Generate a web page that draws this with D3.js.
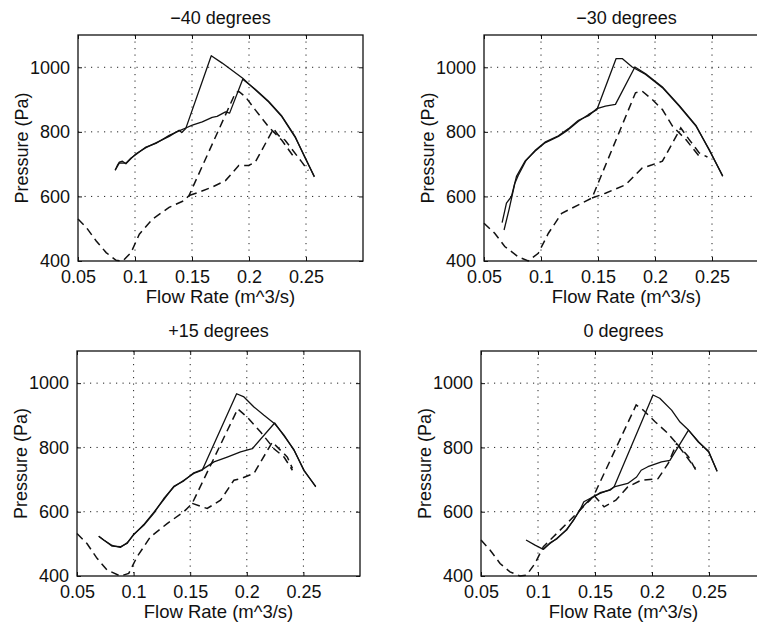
<!DOCTYPE html>
<html>
<head>
<meta charset="utf-8">
<script src="https://cdn.jsdelivr.net/npm/d3@7"></script>
<style>
  body { margin: 0; background: #fff; }
  text { font-family: "Liberation Sans", Arial, sans-serif; fill: #111; }
</style>
</head>
<body>
<svg id="fig" width="757" height="625"></svg>
<script>
// axis setup shared by all four panels
const flowDomain = [0.05, 0.3];
const pressureDomain = [400, 1100];
const flowTicks = [0.05, 0.1, 0.15, 0.2, 0.25];
const pressureTicks = [400, 600, 800, 1000];
const titles = ["\u221240 degrees", "\u221230 degrees", "+15 degrees", "0 degrees"];

// -40 degrees : [flow m^3/s, pressure Pa]
const m40SolidA = [[0.0826,681],[0.0845,696],[0.0863,706],[0.0890,709],[0.092,701],[0.0965,717],[0.1009,732],[0.1096,751],[0.1183,766],[0.13,786],[0.1387,805],[0.141,798],[0.1445,810],[0.1669,1036],[0.1765,1013],[0.1945,966],[0.2055,930],[0.2171,893],[0.2288,847],[0.2404,784],[0.2491,722],[0.2573,660]];
const m40SolidB = [[0.0826,681],[0.0863,704],[0.092,703],[0.0965,719],[0.1009,730],[0.1096,753],[0.1183,764],[0.13,789],[0.1387,803],[0.1445,812],[0.1503,821],[0.159,831],[0.1677,845],[0.172,848],[0.1794,862],[0.183,858],[0.1945,963],[0.2055,932],[0.2171,895],[0.2288,849],[0.2404,786],[0.2491,720],[0.2573,662]];
const m40DashC = [[0.05,530],[0.0573,504],[0.066,462],[0.0747,426],[0.0834,402],[0.0892,400],[0.0965,426],[0.1038,483],[0.1154,530],[0.1299,566],[0.143,587],[0.1474,603],[0.188,920],[0.191,925],[0.1968,909],[0.2055,868],[0.2171,816],[0.2288,774],[0.2404,717]];
const m40DashD = [[0.1474,603],[0.1561,613],[0.1677,629],[0.1794,649],[0.191,696],[0.1997,696],[0.2055,706],[0.2215,810],[0.2259,789],[0.2317,774],[0.2462,707],[0.252,680]];

// -30 degrees
const m30SolidA = [[0.0659,519],[0.0697,579],[0.0741,600],[0.0785,662],[0.0859,709],[0.0947,740],[0.1035,766],[0.1153,786],[0.1241,807],[0.1329,833],[0.1418,854],[0.1491,869],[0.1659,1027],[0.1712,1027],[0.18,1001],[0.1918,978],[0.2065,937],[0.2212,880],[0.2359,818],[0.2476,745],[0.2594,662]];
const m30SolidB = [[0.0676,496],[0.072,560],[0.077,640],[0.08,665],[0.087,712],[0.0947,742],[0.1035,768],[0.1153,788],[0.1241,810],[0.1329,836],[0.1418,850],[0.1491,872],[0.1565,880],[0.1653,885],[0.1824,1001],[0.1918,980],[0.2065,939],[0.2212,882],[0.2359,820],[0.2476,743],[0.2594,664]];
const m30DashC = [[0.05,517],[0.0594,486],[0.0682,445],[0.08,413],[0.0888,400],[0.0976,424],[0.1065,486],[0.1182,548],[0.1329,574],[0.1447,595],[0.1829,921],[0.1888,926],[0.1976,900],[0.2065,869],[0.2153,818],[0.2271,776],[0.2388,724]];
const m30DashD = [[0.1447,595],[0.1565,610],[0.1741,636],[0.1888,688],[0.1976,698],[0.2065,709],[0.2226,812],[0.23,776],[0.2388,735],[0.246,722]];

// +15 degrees
const p15SolidA = [[0.0692,524],[0.0736,512],[0.081,493],[0.0883,491],[0.0942,501],[0.1001,530],[0.109,558],[0.1178,595],[0.1267,641],[0.1355,677],[0.1444,698],[0.1532,719],[0.1606,729],[0.191,967],[0.1975,957],[0.2063,926],[0.2152,900],[0.2246,874],[0.2329,838],[0.2417,791],[0.2506,729],[0.2609,677]];
const p15SolidB = [[0.0692,524],[0.0736,512],[0.081,495],[0.0883,489],[0.0942,503],[0.1001,528],[0.109,560],[0.1178,598],[0.1267,638],[0.1355,679],[0.1444,696],[0.1532,721],[0.1606,731],[0.171,755],[0.1827,770],[0.1945,786],[0.2049,796],[0.2246,876],[0.2329,836],[0.2417,793],[0.2506,727],[0.2609,679]];
const p15DashC = [[0.05,532],[0.0588,501],[0.0677,455],[0.0765,419],[0.0883,400],[0.0957,408],[0.1031,460],[0.1149,522],[0.1296,563],[0.1444,600],[0.1518,626],[0.192,920],[0.2004,894],[0.2122,848],[0.224,796],[0.2329,770],[0.2403,729]];
const p15DashD = [[0.1518,626],[0.165,610],[0.1768,636],[0.1886,698],[0.1945,703],[0.2063,719],[0.2226,817],[0.227,801],[0.2358,770],[0.2403,735]];

// 0 degrees
const z0SolidA = [[0.0895,512],[0.0974,496],[0.1047,483],[0.1105,501],[0.1164,517],[0.1251,543],[0.131,574],[0.1368,605],[0.1402,631],[0.1456,641],[0.1544,657],[0.1632,669],[0.1667,677],[0.2009,963],[0.2068,953],[0.2172,916],[0.2246,879],[0.232,854],[0.2408,818],[0.2497,786],[0.2571,727]];
const z0SolidB = [[0.1047,483],[0.1105,503],[0.1164,515],[0.1251,545],[0.131,572],[0.1368,607],[0.1456,639],[0.1544,659],[0.1632,667],[0.1667,677],[0.1787,688],[0.1865,708],[0.1905,729],[0.1964,740],[0.2083,755],[0.2157,760],[0.232,854],[0.2408,816],[0.2497,788],[0.2571,725]];
const z0DashC = [[0.05,512],[0.0579,481],[0.0667,439],[0.0754,413],[0.0842,400],[0.09,403],[0.0974,439],[0.1047,491],[0.1135,522],[0.1251,563],[0.1368,605],[0.1456,636],[0.149,651],[0.1861,932],[0.192,917],[0.2027,880],[0.2138,844],[0.2216,812],[0.2293,776],[0.238,735]];
const z0DashD = [[0.149,651],[0.158,615],[0.1683,636],[0.1787,677],[0.1905,698],[0.2053,703],[0.2142,750],[0.2216,812],[0.232,771],[0.2393,724]];

const panelSolids = [[m40SolidA, m40SolidB], [m30SolidA, m30SolidB], [p15SolidA, p15SolidB], [z0SolidA, z0SolidB]];
const panelDashes = [[m40DashC, m40DashD], [m30DashC, m30DashD], [p15DashC, p15DashD], [z0DashC, z0DashD]];

// where each axes box sits on the page
const boxes = [
    { left: 78, top: 35, width: 285, height: 226, titleGap: 11.5 },
    { left: 484, top: 35, width: 285, height: 226, titleGap: 11.5 },
    { left: 77, top: 351, width: 283, height: 225, titleGap: 14.5 },
    { left: 481, top: 351, width: 285, height: 225, titleGap: 14.5 }
];

const svg = d3.select('#fig');
const ink = '#111';

boxes.forEach((box, i) => {
    const x = d3.scaleLinear().domain(flowDomain).range([0, box.width]);
    const y = d3.scaleLinear().domain(pressureDomain).range([box.height, 0]);

    const g = svg.append('g')
        .attr('transform', `translate(${box.left},${box.top})`);

    // dotted grid
    g.selectAll('.vgrid')
        .data(flowTicks.slice(1))
        .join('line')
        .attr('x1', (d) => x(d)).attr('x2', (d) => x(d))
        .attr('y1', 0).attr('y2', box.height)
        .style('stroke', '#222')
        .style('stroke-width', 1)
        .style('stroke-dasharray', '1.2,5.3');

    g.selectAll('.hgrid')
        .data(pressureTicks.slice(1))
        .join('line')
        .attr('x1', 0).attr('x2', box.width)
        .attr('y1', (d) => y(d)).attr('y2', (d) => y(d))
        .style('stroke', '#222')
        .style('stroke-width', 1)
        .style('stroke-dasharray', '1.2,5.3');

    // axes: labels outside, short ticks pointing in, on all four sides
    const bottom = g.append('g').attr('transform', `translate(0,${box.height})`)
        .call(d3.axisBottom(x).tickValues(flowTicks).tickSizeInner(-4).tickSizeOuter(0).tickPadding(9)
            .tickFormat((d) => String(+d.toFixed(2))));
    const left = g.append('g')
        .call(d3.axisLeft(y).tickValues(pressureTicks).tickSizeInner(-4).tickSizeOuter(0).tickPadding(8)
            .tickFormat(d3.format('d')));
    const top = g.append('g')
        .call(d3.axisTop(x).tickValues(flowTicks).tickSizeInner(-4).tickSizeOuter(0).tickFormat(''));
    const right = g.append('g').attr('transform', `translate(${box.width},0)`)
        .call(d3.axisRight(y).tickValues(pressureTicks).tickSizeInner(-4).tickSizeOuter(0).tickFormat(''));

    [bottom, left, top, right].forEach((a) => {
        a.select('.domain').remove();
        a.selectAll('line').style('stroke', ink);
        a.selectAll('text')
            .style('font-size', '18px')
            .style('font-family', '"Liberation Sans", Arial, sans-serif')
            .attr('fill', ink);
    });

    g.append('rect')
        .attr('width', box.width)
        .attr('height', box.height)
        .style('fill', 'none')
        .style('stroke', ink)
        .style('stroke-width', 1.3);

    const line = d3.line()
        .x((d) => x(d[0]))
        .y((d) => y(d[1]));

    g.selectAll('.dashCurve')
        .data(panelDashes[i])
        .join('path')
        .attr('class', 'dashCurve')
        .attr('d', line)
        .style('fill', 'none')
        .style('stroke', ink)
        .style('stroke-width', 1.5)
        .style('stroke-dasharray', '8,5');

    g.selectAll('.solidCurve')
        .data(panelSolids[i])
        .join('path')
        .attr('class', 'solidCurve')
        .attr('d', line)
        .style('fill', 'none')
        .style('stroke', ink)
        .style('stroke-width', 1.3)
        .style('stroke-linejoin', 'round');

    g.append('text')
        .attr('x', box.width / 2)
        .attr('y', -box.titleGap)
        .attr('text-anchor', 'middle')
        .style('font-size', '18px')
        .text(titles[i]);

    g.append('text')
        .attr('x', box.width / 2)
        .attr('y', box.height + 42)
        .attr('text-anchor', 'middle')
        .style('font-size', '18.5px')
        .text('Flow Rate (m^3/s)');

    g.append('text')
        .attr('transform', `translate(-50,${box.height / 2}) rotate(-90)`)
        .attr('text-anchor', 'middle')
        .style('font-size', '18px')
        .text('Pressure (Pa)');
});
</script>
</body>
</html>
